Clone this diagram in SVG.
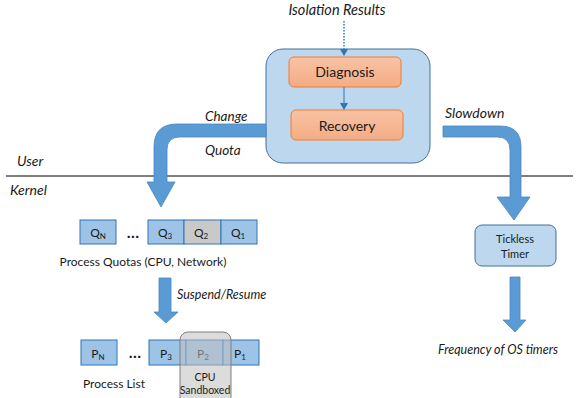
<svg xmlns="http://www.w3.org/2000/svg" width="579" height="398" viewBox="0 0 579 398">
<defs>
  <linearGradient id="orange" x1="0" y1="0" x2="0" y2="1">
    <stop offset="0" stop-color="#F8C3A4"/>
    <stop offset="1" stop-color="#F4AC84"/>
  </linearGradient>
  <marker id="thin" markerWidth="8" markerHeight="8" refX="6" refY="4" orient="auto" markerUnits="userSpaceOnUse">
    <path d="M0,0 L7,4 L0,8 Z" fill="#2E75B6"/>
  </marker>
</defs>
<style>
  text { font-family: "Lato", "Open Sans", "Liberation Sans", sans-serif; fill: #1a1a1a; }
  .it { font-style: italic; font-size: 13.5px; }
  .lbl { font-size: 12px; }
  .big { fill: #5B9BD5; stroke: #4A86BE; stroke-width: 0.8; }
  .cell { fill: #9DC3E6; stroke: #2E75B6; stroke-width: 1; }
  .cellg { fill: #C9C9C9; stroke: #2E75B6; stroke-width: 1; }
  .orange { fill: url(#orange); stroke: #ED7D31; stroke-width: 1; }
  .sub { font-size: 8px; }
</style>

<!-- user/kernel boundary -->
<line x1="6" y1="176" x2="573" y2="176" stroke="#000" stroke-width="1"/>
<text class="it" x="17" y="166" style="font-size:14px">User</text>
<text class="it" x="10" y="195" style="font-size:14px">Kernel</text>

<g id="controller">
  <rect x="266" y="49" width="164" height="114" rx="17" fill="#BDD7EE" stroke="#41719C" stroke-width="1"/>
</g>
<g id="diagnosis">
  <rect class="orange" x="289" y="57" width="112" height="30" rx="5"/>
  <text x="345" y="77" text-anchor="middle" font-size="14">Diagnosis</text>
</g>
<g id="recovery">
  <rect class="orange" x="291" y="110" width="112" height="30" rx="5"/>
  <text x="347" y="131" text-anchor="middle" font-size="14">Recovery</text>
</g>

<g id="quotas">
  <rect class="cell" x="80" y="220" width="36" height="24"/>
  <text x="98" y="237" text-anchor="middle" font-size="12">Q<tspan class="sub" dy="2">N</tspan></text>
  <text x="133" y="238" text-anchor="middle" font-size="16" font-weight="bold">…</text>
  <rect class="cell" x="148" y="220" width="36" height="24"/>
  <text x="165" y="237" text-anchor="middle" font-size="12">Q<tspan class="sub" dy="2">3</tspan></text>
  <rect class="cellg" x="184" y="220" width="37" height="24"/>
  <text x="201" y="237" text-anchor="middle" font-size="12">Q<tspan class="sub" dy="2">2</tspan></text>
  <rect class="cell" x="221" y="220" width="36" height="24"/>
  <text x="238" y="237" text-anchor="middle" font-size="12">Q<tspan class="sub" dy="2">1</tspan></text>
  <text class="lbl" x="143" y="266" text-anchor="middle">Process Quotas (CPU, Network)</text>
</g>

<g id="processes">
  <rect class="cell" x="81" y="340" width="36" height="25"/>
  <text x="98" y="358" text-anchor="middle" font-size="12">P<tspan class="sub" dy="2">N</tspan></text>
  <text x="135" y="358" text-anchor="middle" font-size="16" font-weight="bold">…</text>
  <rect class="cell" x="149" y="340" width="37" height="25"/>
  <text x="166" y="358" text-anchor="middle" font-size="12">P<tspan class="sub" dy="2">3</tspan></text>
  <rect class="cell" x="186" y="340" width="37" height="25"/>
  <text x="203" y="358" text-anchor="middle" font-size="12">P<tspan class="sub" dy="2">2</tspan></text>
  <rect class="cell" x="223" y="340" width="36" height="25"/>
  <text x="240" y="358" text-anchor="middle" font-size="12">P<tspan class="sub" dy="2">1</tspan></text>
  <text class="lbl" x="83" y="388">Process List</text>
</g>

<g id="sandbox">
  <rect x="180" y="332" width="51" height="75" rx="8" fill="#BFBFBF" fill-opacity="0.55" stroke="#7F7F7F" stroke-width="1"/>
  <text x="205" y="381" text-anchor="middle" font-size="10.5">CPU</text>
  <text x="205" y="394" text-anchor="middle" font-size="10.5">Sandboxed</text>
</g>

<g id="tickless-timer">
  <rect x="475" y="225" width="81" height="41" rx="7" fill="#BDD7EE" stroke="#41719C" stroke-width="1"/>
  <text x="515" y="243" text-anchor="middle" font-size="11">Tickless</text>
  <text x="515" y="258" text-anchor="middle" font-size="11">Timer</text>
</g>

<g id="connectors">
  <!-- isolation results into diagnosis -->
  <line x1="344" y1="21" x2="344" y2="55" stroke="#5B9BD5" stroke-width="2" stroke-dasharray="1.5,1.5" marker-end="url(#thin)"/>
  <!-- diagnosis to recovery -->
  <line x1="344" y1="87" x2="344" y2="109" stroke="#2E75B6" stroke-width="1" marker-end="url(#thin)"/>
  <!-- change quota -->
  <path class="big" d="M266,124 L177,124 Q154,124 154,147 L154,182 L147,182 L161,207 L175,182 L167,182 L167,150 Q167,137 180,137 L266,137 Z"/>
  <!-- suspend / resume -->
  <path class="big" d="M159,278 L171,278 L171,312 L178,312 L166,323 L154,312 L159,312 Z"/>
  <!-- slowdown -->
  <path class="big" d="M443,126 L500,126 Q521,126 521,147 L521,197 L530,197 L514,220 L497,197 L510,197 L510,150 Q510,137 497,137 L443,137 Z"/>
  <!-- timer output -->
  <path class="big" d="M510,277 L520,277 L520,320 L526,320 L515,332 L503,320 L510,320 Z"/>
</g>

<text class="it" x="337" y="15" text-anchor="middle" style="font-size:14.5px">Isolation Results</text>
<text class="it" x="205" y="121">Change</text>
<text class="it" x="205" y="155">Quota</text>
<text class="it" x="445" y="118" style="font-size:14px">Slowdown</text>
<text class="it" x="177" y="299" style="font-size:12.5px">Suspend/Resume</text>
<text class="it" x="498" y="354" text-anchor="middle" style="font-size:12.5px">Frequency of OS timers</text>
</svg>
